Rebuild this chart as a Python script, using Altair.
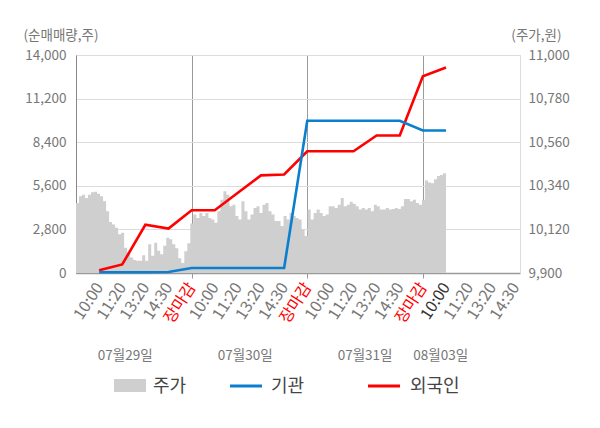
import json
import altair as alt
import pandas as pd

# ---------------- data ----------------
time_labels = ["10:00", "11:20", "13:20", "14:30", "장마감"] * 3 + ["10:00", "11:20", "13:20", "14:30"]
date_labels = ["07월29일", "07월30일", "07월31일", "08월03일"]
date_pos = [2.13, 7.32, 12.5, 15.77]

# 순매매량 (주) at each time label (index 1..16)
inst = [50, 50, 50, 60, 320, 320, 320, 320, 320, 9780, 9780, 9780, 9780, 9780, 9155, 9155]
foreign = [180, 550, 3100, 2850, 4030, 4030, 5150, 6270, 6330, 7820, 7820, 7820, 8830, 8830, 12640, 13200]

# 주가 (원), intraday readings
price = [
    10253, 10287, 10295, 10278, 10295, 10307, 10310, 10300, 10287, 10262,
    10212, 10157, 10145, 10128, 10095, 10103, 10028, 10003, 9978, 9965,
    9962, 9962, 9990, 9962, 10045, 9987, 10053, 10012, 9995, 10037,
    10078, 10070, 10045, 10025, 9975, 9950, 10010, 10050,
    10150, 10195, 10178, 10203, 10187, 10203, 10178, 10170, 10153, 10212,
    10270, 10312, 10295, 10237, 10245, 10187, 10170, 10262, 10212, 10170,
    10195, 10228, 10237, 10203, 10245, 10253, 10212, 10195, 10162, 10162,
    10137, 10187, 10170, 10203, 10187, 10178, 10170, 10120, 10087,
    10220, 10170, 10203, 10220, 10203, 10187, 10195, 10237, 10237, 10228,
    10245, 10278, 10237, 10245, 10260, 10250, 10237, 10220, 10228, 10220,
    10228, 10212, 10245, 10237, 10220, 10220, 10228, 10220, 10223, 10228,
    10223, 10237, 10273, 10273, 10262, 10270, 10253, 10245, 10270,
    10367, 10357, 10353, 10373, 10390, 10395, 10403, 10450,
]
series_names = ["기관", "외국인"]
legend_labels = ["주가", "기관", "외국인"]
left_ticks = [0, 2800, 5600, 8400, 11200, 14000]
right_ticks = [9900, 10120, 10340, 10560, 10780, 11000]

# ---------------- styling ----------------
FONT = "Noto Sans CJK KR"
W, H = 444, 218
GRAY_TXT = "#777777"
BLUE = "#0a7fcf"
RED = "#ff0000"
AREA = "#cfcfcf"

n = len(price)
area_df = pd.DataFrame({"pos": [i * 16 / (n - 1) for i in range(n)], "price": price})
idx = list(range(1, len(inst) + 1))
red_df = pd.DataFrame({"pos": idx, "value": foreign, "series": series_names[1]})
blue_df = pd.DataFrame({"pos": idx, "value": inst, "series": series_names[0]})
date_df = pd.DataFrame({"pos": date_pos, "label": date_labels})

label_expr = json.dumps(time_labels, ensure_ascii=False) + "[datum.value - 1]"
sep_test = "datum.value % 5 === 0"

xscale = alt.Scale(domain=[0, 19.2], nice=False, zero=False)
xaxis = alt.Axis(
    values=list(range(1, 20)),
    labelExpr=label_expr,
    labelAngle=-57,
    labelAlign="right",
    labelBaseline="middle",
    labelFontSize=16,
    labelFont=FONT,
    labelPadding=6,
    labelOverlap=False,
    labelFlush=False,
    labelColor={"condition": [{"test": sep_test, "value": RED},
                              {"test": "datum.value === 16", "value": "#333333"}],
                "value": GRAY_TXT},
    grid=True,
    gridColor={"condition": {"test": sep_test, "value": "#9a9a9a"}, "value": "rgba(0,0,0,0)"},
    gridWidth=1,
    ticks=True,
    tickSize=5,
    tickColor={"condition": {"test": sep_test, "value": "#9a9a9a"}, "value": "rgba(0,0,0,0)"},
    domainColor="#9a9a9a",
    domainWidth=1.5,
    title=None,
)
X = alt.X("pos:Q", scale=xscale, axis=xaxis)

left_axis = alt.Axis(
    orient="left", values=left_ticks, format=",.0f", grid=True, gridColor="#dcdcdc",
    ticks=False, domainColor="#8a8a8a", labelPadding=10, labelFontSize=13.5,
    labelColor=GRAY_TXT, labelFont=FONT,
    title="(순매매량,주)", titleAngle=0, titleAlign="left", titleBaseline="middle",
    titleX=-53, titleY=-20, titleFontSize=13.5, titleFontWeight="normal",
    titleColor=GRAY_TXT, titleFont=FONT,
)
right_axis = alt.Axis(
    orient="right", values=right_ticks, format=",.0f", grid=False, ticks=False,
    domainColor="#dddddd", labelPadding=8, labelFontSize=13.5, labelColor=GRAY_TXT,
    labelFont=FONT,
    title="(주가,원)", titleAngle=0, titleAlign="right", titleBaseline="middle",
    titleX=41, titleY=-20, titleFontSize=13.5, titleFontWeight="normal",
    titleColor=GRAY_TXT, titleFont=FONT,
)

area = alt.Chart(area_df).mark_area(color=AREA, interpolate="step-after", clip=True).encode(
    x=X,
    y=alt.Y("price:Q", scale=alt.Scale(domain=[9900, 11000], nice=False, zero=False), axis=right_axis),
    y2=alt.datum(9900),
)

yleft = alt.Y("value:Q", scale=alt.Scale(domain=[0, 14000], nice=False), axis=left_axis)
red_line = alt.Chart(red_df).mark_line(color=RED, strokeWidth=2.6).encode(x=X, y=yleft)
blue_line = alt.Chart(blue_df).mark_line(color=BLUE, strokeWidth=2.6).encode(x=X, y=yleft)
lines = alt.layer(red_line, blue_line)

dates = alt.Chart(date_df).mark_text(fontSize=13.5, color=GRAY_TXT, font=FONT, baseline="middle").encode(
    x=X, y=alt.value(301), text="label:N"
)

# legend (manual, below chart)
LY = 331
leg_rect = alt.Chart(pd.DataFrame({"label": [legend_labels[0]]})).mark_rect(color=AREA).encode(
    x=alt.value(38), x2=alt.value(70), y=alt.value(LY - 7), y2=alt.value(LY + 6)
)
leg_blue = alt.Chart(pd.DataFrame({"label": [legend_labels[1]]})).mark_rule(color=BLUE, strokeWidth=3).encode(
    x=alt.value(154), x2=alt.value(186), y=alt.value(LY)
)
leg_red = alt.Chart(pd.DataFrame({"label": [legend_labels[2]]})).mark_rule(color=RED, strokeWidth=3).encode(
    x=alt.value(292), x2=alt.value(324), y=alt.value(LY)
)
leg_texts = []
for lab, lx in zip(legend_labels, [77, 195, 334]):
    leg_texts.append(
        alt.Chart(pd.DataFrame({"label": [lab]})).mark_text(
            fontSize=18, color="#444444", font=FONT, align="left", baseline="middle"
        ).encode(x=alt.value(lx), y=alt.value(LY + 1), text="label:N")
    )

chart = alt.layer(area, lines, dates, leg_rect, leg_blue, leg_red, *leg_texts).resolve_scale(
    y="independent"
).properties(
    width=W, height=H,
    autosize=alt.AutoSizeParams(type="none"),
    padding={"left": 68, "top": 47, "right": 64, "bottom": 140},
).configure_view(fill="#f4f4f4", stroke=None).configure(background="white", font=FONT)

chart.save("out.html", embed_options={"renderer": "svg", "actions": False})
